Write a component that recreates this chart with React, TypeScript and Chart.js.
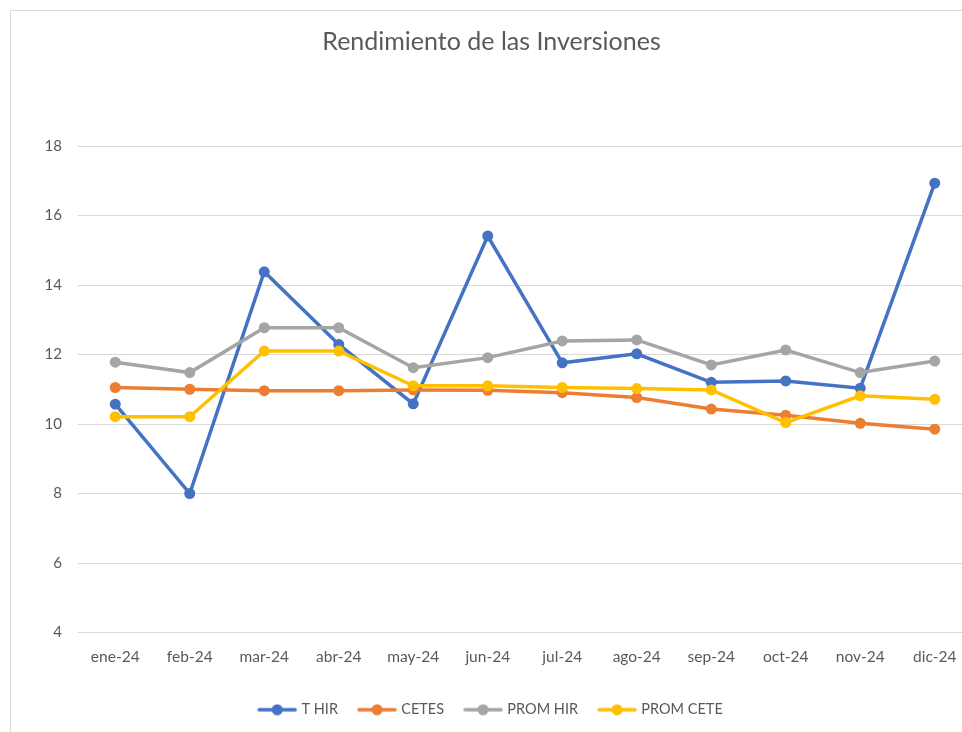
import { useEffect, useRef } from "react";
import { Chart, registerables } from "chart.js";
Chart.register(...registerables);

const months = ["ene-24", "feb-24", "mar-24", "abr-24", "may-24", "jun-24", "jul-24", "ago-24", "sep-24", "oct-24", "nov-24", "dic-24"];
const tHir = [10.57, 8.0, 14.38, 12.29, 10.58, 15.41, 11.76, 12.02, 11.2, 11.24, 11.03, 16.93];
const cetes = [11.05, 11.0, 10.96, 10.96, 10.98, 10.97, 10.9, 10.76, 10.43, 10.25, 10.02, 9.85];
const promHir = [11.78, 11.48, 12.77, 12.77, 11.62, 11.91, 12.39, 12.42, 11.7, 12.13, 11.48, 11.81];
const promCete = [10.21, 10.21, 12.1, 12.1, 11.1, 11.1, 11.05, 11.02, 10.98, 10.04, 10.81, 10.71];
const seriesNames = ["T HIR", "CETES", "PROM HIR", "PROM CETE"];
const seriesColors = ["#4472C4", "#ED7D31", "#A5A5A5", "#FFC000"];
const title = "Rendimiento de las Inversiones";
const yMin = 4;
const yMax = 18;
const yStep = 2;

const FONT = "Lato";
const TEXT = "#595959";

function legendIcon(color: string): HTMLCanvasElement {
  const c = document.createElement("canvas");
  c.width = 40;
  c.height = 12;
  const ctx = c.getContext("2d")!;
  ctx.strokeStyle = color;
  ctx.lineWidth = 3.5;
  ctx.lineCap = "round";
  ctx.beginPath();
  ctx.moveTo(2, 6);
  ctx.lineTo(38, 6);
  ctx.stroke();
  ctx.fillStyle = color;
  ctx.beginPath();
  ctx.arc(20, 6, 5.5, 0, Math.PI * 2);
  ctx.fill();
  return c;
}

export default function App() {
  const ref = useRef<HTMLCanvasElement>(null);
  useEffect(() => {
    if (!ref.current) return;
    const values = [tHir, cetes, promHir, promCete];
    const icons = seriesColors.map(legendIcon);
    const chart = new Chart(ref.current, {
      type: "line",
      data: {
        labels: months,
        datasets: values.map((d, i) => ({
          label: seriesNames[i],
          data: d,
          borderColor: seriesColors[i],
          backgroundColor: seriesColors[i],
          borderWidth: 3.5,
          pointRadius: 5.5,
          pointBorderWidth: 0,
          pointBackgroundColor: seriesColors[i],
          tension: 0,
          order: values.length - i,
        })),
      },
      options: {
        responsive: false,
        animation: false,
        layout: { padding: { left: 0, right: 29, top: 0, bottom: 24 } },
        plugins: {
          title: {
            display: true,
            text: title,
            color: TEXT,
            font: { family: FONT, size: 25, weight: "normal" },
            padding: { top: 16, bottom: 89 },
          },
          legend: {
            position: "bottom",
            labels: {
              color: TEXT,
              font: { family: FONT, size: 14.5 },
              usePointStyle: true,
              pointStyleWidth: 34,
              boxHeight: 12,
              padding: 22,
              generateLabels: (ch: any) => {
                const items = Chart.defaults.plugins.legend.labels.generateLabels(ch);
                items.sort((a: any, b: any) => a.datasetIndex - b.datasetIndex);
                items.forEach((it: any) => {
                  it.pointStyle = icons[it.datasetIndex];
                });
                return items;
              },
            },
          },
          tooltip: { enabled: false },
        },
        scales: {
          x: {
            offset: true,
            grid: { display: false, drawTicks: false, offset: true },
            border: { display: true, color: "#d9d9d9" },
            ticks: { color: TEXT, font: { family: FONT, size: 15.5 }, padding: 15 },
            afterFit: (s: any) => {
              s.height = 48;
            },
          },
          y: {
            min: yMin,
            max: yMax,
            grid: { color: "#d9d9d9", lineWidth: 1, drawTicks: false },
            border: { display: false },
            ticks: { stepSize: yStep, color: TEXT, font: { family: FONT, size: 15 }, padding: 16 },
            afterFit: (s: any) => {
              s.width = 67;
            },
          },
        },
      },
    });
    return () => chart.destroy();
  }, []);
  return (
    <div style={{ position: "fixed", inset: 0, overflow: "hidden", background: "#fff" }}>
      <div
        style={{
          position: "absolute",
          left: 10,
          top: 10,
          width: 990,
          height: 740,
          border: "1px solid #d9d9d9",
        }}
      >
        <canvas ref={ref} width={990} height={740} style={{ display: "block" }} />
      </div>
    </div>
  );
}
